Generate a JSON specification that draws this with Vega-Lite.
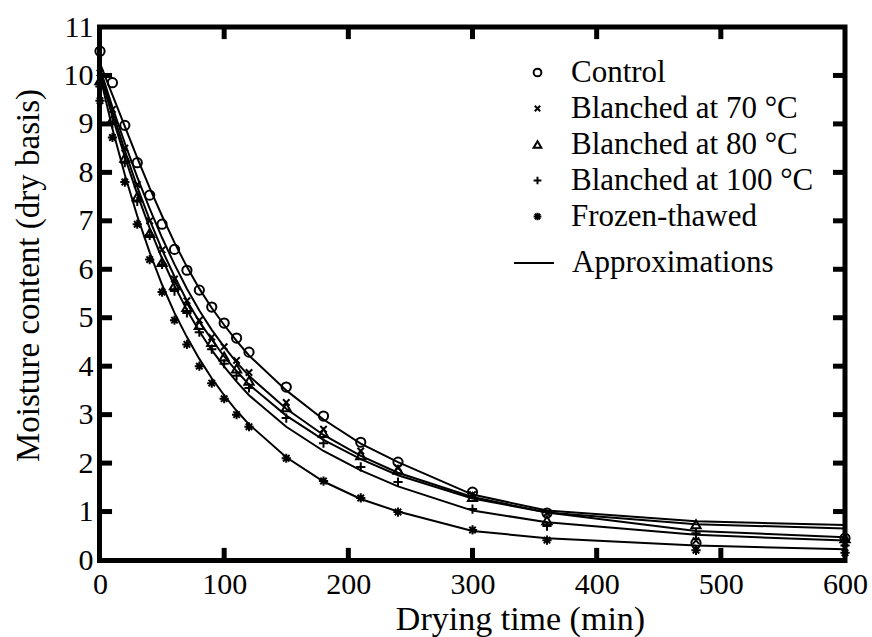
{
  "$schema": "https://vega.github.io/schema/vega-lite/v6.json",
  "width": 745,
  "height": 533,
  "autosize": "none",
  "padding": {"left": 100, "top": 27, "right": 27, "bottom": 77},
  "background": "white",
  "config": {
    "view": {"stroke": null},
    "font": "Liberation Serif"
  },
  "datasets": {
    "xt": [{"v":100},{"v":200},{"v":300},{"v":400},{"v":500}],
    "yt": [{"v":1},{"v":2},{"v":3},{"v":4},{"v":5},{"v":6},{"v":7},{"v":8},{"v":9},{"v":10}],
    "d": [
      {"s":"Control","t":0,"m":10.5,"f":10.25},{"s":"Control","t":10,"m":9.85,"f":9.6},{"s":"Control","t":20,"m":8.97,"f":8.95},{"s":"Control","t":30,"m":8.2,"f":8.3},{"s":"Control","t":40,"m":7.53,"f":7.68},{"s":"Control","t":50,"m":6.93,"f":7.1},{"s":"Control","t":60,"m":6.41,"f":6.55},{"s":"Control","t":70,"m":5.98,"f":6.05},{"s":"Control","t":80,"m":5.57,"f":5.6},{"s":"Control","t":90,"m":5.22,"f":5.2},{"s":"Control","t":100,"m":4.89,"f":4.85},{"s":"Control","t":110,"m":4.58,"f":4.52},{"s":"Control","t":120,"m":4.29,"f":4.22},{"s":"Control","t":150,"m":3.57,"f":3.5},{"s":"Control","t":180,"m":2.97,"f":2.9},{"s":"Control","t":210,"m":2.43,"f":2.4},{"s":"Control","t":240,"m":2.02,"f":2.02},{"s":"Control","t":300,"m":1.4,"f":1.35},{"s":"Control","t":360,"m":0.97,"f":1.02},{"s":"Control","t":480,"m":0.35,"f":0.8},{"s":"Control","t":600,"m":0.45,"f":0.72},
      {"s":"Blanched at 70 °C","t":0,"m":10.05,"f":10.15},{"s":"Blanched at 70 °C","t":10,"m":9.3,"f":9.35},{"s":"Blanched at 70 °C","t":20,"m":8.5,"f":8.6},{"s":"Blanched at 70 °C","t":30,"m":7.75,"f":7.9},{"s":"Blanched at 70 °C","t":40,"m":7.0,"f":7.25},{"s":"Blanched at 70 °C","t":50,"m":6.4,"f":6.65},{"s":"Blanched at 70 °C","t":60,"m":5.8,"f":6.1},{"s":"Blanched at 70 °C","t":70,"m":5.35,"f":5.6},{"s":"Blanched at 70 °C","t":80,"m":4.95,"f":5.15},{"s":"Blanched at 70 °C","t":90,"m":4.6,"f":4.75},{"s":"Blanched at 70 °C","t":100,"m":4.4,"f":4.4},{"s":"Blanched at 70 °C","t":110,"m":4.12,"f":4.08},{"s":"Blanched at 70 °C","t":120,"m":3.87,"f":3.8},{"s":"Blanched at 70 °C","t":150,"m":3.25,"f":3.12},{"s":"Blanched at 70 °C","t":180,"m":2.7,"f":2.58},{"s":"Blanched at 70 °C","t":210,"m":2.25,"f":2.15},{"s":"Blanched at 70 °C","t":240,"m":1.9,"f":1.8},{"s":"Blanched at 70 °C","t":300,"m":1.35,"f":1.3},{"s":"Blanched at 70 °C","t":360,"m":0.97,"f":0.98},{"s":"Blanched at 70 °C","t":480,"m":0.4,"f":0.6},{"s":"Blanched at 70 °C","t":600,"m":0.35,"f":0.47},
      {"s":"Blanched at 80 °C","t":0,"m":9.9,"f":10.1},{"s":"Blanched at 80 °C","t":10,"m":9.1,"f":9.25},{"s":"Blanched at 80 °C","t":20,"m":8.3,"f":8.45},{"s":"Blanched at 80 °C","t":30,"m":7.5,"f":7.7},{"s":"Blanched at 80 °C","t":40,"m":6.75,"f":7.02},{"s":"Blanched at 80 °C","t":50,"m":6.15,"f":6.4},{"s":"Blanched at 80 °C","t":60,"m":5.67,"f":5.85},{"s":"Blanched at 80 °C","t":70,"m":5.22,"f":5.35},{"s":"Blanched at 80 °C","t":80,"m":4.85,"f":4.92},{"s":"Blanched at 80 °C","t":90,"m":4.5,"f":4.55},{"s":"Blanched at 80 °C","t":100,"m":4.2,"f":4.2},{"s":"Blanched at 80 °C","t":110,"m":3.95,"f":3.9},{"s":"Blanched at 80 °C","t":120,"m":3.7,"f":3.62},{"s":"Blanched at 80 °C","t":150,"m":3.15,"f":2.98},{"s":"Blanched at 80 °C","t":180,"m":2.62,"f":2.48},{"s":"Blanched at 80 °C","t":210,"m":2.16,"f":2.08},{"s":"Blanched at 80 °C","t":240,"m":1.86,"f":1.75},{"s":"Blanched at 80 °C","t":300,"m":1.3,"f":1.27},{"s":"Blanched at 80 °C","t":360,"m":0.82,"f":0.98},{"s":"Blanched at 80 °C","t":480,"m":0.74,"f":0.74},{"s":"Blanched at 80 °C","t":600,"m":0.45,"f":0.65},
      {"s":"Blanched at 100 °C","t":0,"m":9.77,"f":10.05},{"s":"Blanched at 100 °C","t":10,"m":9.0,"f":9.15},{"s":"Blanched at 100 °C","t":20,"m":8.2,"f":8.32},{"s":"Blanched at 100 °C","t":30,"m":7.4,"f":7.55},{"s":"Blanched at 100 °C","t":40,"m":6.7,"f":6.85},{"s":"Blanched at 100 °C","t":50,"m":6.1,"f":6.22},{"s":"Blanched at 100 °C","t":60,"m":5.55,"f":5.66},{"s":"Blanched at 100 °C","t":70,"m":5.1,"f":5.16},{"s":"Blanched at 100 °C","t":80,"m":4.7,"f":4.72},{"s":"Blanched at 100 °C","t":90,"m":4.35,"f":4.33},{"s":"Blanched at 100 °C","t":100,"m":4.05,"f":3.99},{"s":"Blanched at 100 °C","t":110,"m":3.8,"f":3.68},{"s":"Blanched at 100 °C","t":120,"m":3.55,"f":3.4},{"s":"Blanched at 100 °C","t":150,"m":2.93,"f":2.75},{"s":"Blanched at 100 °C","t":180,"m":2.41,"f":2.25},{"s":"Blanched at 100 °C","t":210,"m":1.92,"f":1.85},{"s":"Blanched at 100 °C","t":240,"m":1.61,"f":1.52},{"s":"Blanched at 100 °C","t":300,"m":1.05,"f":1.02},{"s":"Blanched at 100 °C","t":360,"m":0.7,"f":0.78},{"s":"Blanched at 100 °C","t":480,"m":0.55,"f":0.52},{"s":"Blanched at 100 °C","t":600,"m":0.3,"f":0.4},
      {"s":"Frozen-thawed","t":0,"m":9.48,"f":10.0},{"s":"Frozen-thawed","t":10,"m":8.72,"f":8.9},{"s":"Frozen-thawed","t":20,"m":7.8,"f":7.95},{"s":"Frozen-thawed","t":30,"m":6.93,"f":7.1},{"s":"Frozen-thawed","t":40,"m":6.2,"f":6.35},{"s":"Frozen-thawed","t":50,"m":5.53,"f":5.68},{"s":"Frozen-thawed","t":60,"m":4.95,"f":5.1},{"s":"Frozen-thawed","t":70,"m":4.45,"f":4.6},{"s":"Frozen-thawed","t":80,"m":4.0,"f":4.15},{"s":"Frozen-thawed","t":90,"m":3.65,"f":3.75},{"s":"Frozen-thawed","t":100,"m":3.33,"f":3.4},{"s":"Frozen-thawed","t":110,"m":3.0,"f":3.08},{"s":"Frozen-thawed","t":120,"m":2.75,"f":2.8},{"s":"Frozen-thawed","t":150,"m":2.1,"f":2.12},{"s":"Frozen-thawed","t":180,"m":1.63,"f":1.62},{"s":"Frozen-thawed","t":210,"m":1.28,"f":1.26},{"s":"Frozen-thawed","t":240,"m":0.99,"f":1.0},{"s":"Frozen-thawed","t":300,"m":0.62,"f":0.6},{"s":"Frozen-thawed","t":360,"m":0.41,"f":0.45},{"s":"Frozen-thawed","t":480,"m":0.2,"f":0.3},{"s":"Frozen-thawed","t":600,"m":0.15,"f":0.22}
    ]
  },
  "layer": [
    {
      "data": {"name": "d"},
      "mark": {"type": "line", "stroke": "black", "strokeWidth": 2},
      "encoding": {
        "x": {"field": "t", "type": "quantitative", "scale": {"domain": [0, 600], "nice": false},
              "axis": {"orient": "bottom", "title": "Drying time (min)", "values": [0,100,200,300,400,500,600], "grid": false,
                       "domain": false, "ticks": false,
                       "labelFont": "Liberation Serif", "labelFontSize": 30, "labelColor": "black", "labelPadding": 9, "labelFlush": false,
                       "titleFont": "Liberation Serif", "titleFontSize": 34, "titleFontWeight": "normal", "titleColor": "black", "titlePadding": 3, "titleX": 420}},
        "y": {"field": "f", "type": "quantitative", "scale": {"domain": [0, 11], "nice": false},
              "axis": {"orient": "left", "title": "Moisture content (dry basis)", "values": [0,1,2,3,4,5,6,7,8,9,10,11], "grid": false,
                       "domain": false, "ticks": false,
                       "labelFont": "Liberation Serif", "labelFontSize": 30, "labelColor": "black", "labelPadding": 7, "labelFlush": false,
                       "titleFont": "Liberation Serif", "titleFontSize": 33, "titleFontWeight": "normal", "titleColor": "black", "titlePadding": 18, "titleY": 248}},
        "detail": {"field": "s"},
        "stroke": {"datum": "Approximations", "scale": {"range": ["black"]},
                   "legend": {"title": null, "orient": "none", "symbolType": "stroke", "symbolSize": 1600, "symbolStrokeWidth": 2, "symbolStrokeColor": "black",
                              "labelFont": "Liberation Serif", "labelFontSize": 31, "labelColor": "black", "labelLimit": 400,
                              "labelOffset": 17, "legendX": 413, "legendY": 215}}
      }
    },
    {
      "data": {"name": "d"},
      "mark": {"type": "point", "filled": false, "stroke": "black", "strokeWidth": 2, "size": 85, "opacity": 1},
      "encoding": {
        "x": {"field": "t", "type": "quantitative"},
        "y": {"field": "m", "type": "quantitative"},
        "shape": {"field": "s", "type": "nominal",
                  "scale": {"domain": ["Control", "Blanched at 70 °C", "Blanched at 80 °C", "Blanched at 100 °C", "Frozen-thawed"],
                            "range": ["circle", "M-0.7,-0.7L0.7,0.7M-0.7,0.7L0.7,-0.7", "triangle-up", "M-1,0L1,0M0,-1L0,1", "M0,-1L0,1M-1,0L1,0M-0.7,-0.7L0.7,0.7M-0.7,0.7L0.7,-0.7"]},
                  "legend": {"title": null, "orient": "none", "symbolSize": 60, "symbolStrokeColor": "black", "symbolFillColor": "transparent", "symbolStrokeWidth": 2,
                             "labelFont": "Liberation Serif", "labelFontSize": 31, "labelColor": "black", "labelLimit": 400,
                             "rowPadding": 4, "labelOffset": 18, "legendX": 422, "legendY": 30}}
      }
    },
    {
      "layer": [
        {
          "data": {"name": "xt"},
          "mark": {"type": "rule", "stroke": "black", "strokeWidth": 5},
          "encoding": {"x": {"field": "v", "type": "quantitative"}, "y": {"datum": -0.01, "type": "quantitative"}, "y2": {"datum": 0.25}}
        },
        {
          "data": {"name": "xt"},
          "mark": {"type": "rule", "stroke": "black", "strokeWidth": 5},
          "encoding": {"x": {"field": "v", "type": "quantitative"}, "y": {"datum": 11, "type": "quantitative"}, "y2": {"datum": 10.75}}
        },
        {
          "data": {"name": "yt"},
          "mark": {"type": "rule", "stroke": "black", "strokeWidth": 5},
          "encoding": {"y": {"field": "v", "type": "quantitative"}, "x": {"datum": -0.4, "type": "quantitative"}, "x2": {"datum": 9.7}}
        },
        {
          "data": {"name": "yt"},
          "mark": {"type": "tick", "color": "black", "opacity": 1, "orient": "horizontal", "thickness": 5, "size": 12, "xOffset": -6},
          "encoding": {"y": {"field": "v", "type": "quantitative"}, "x": {"datum": 600, "type": "quantitative"}}
        },
        {
          "data": {"values": [{"part": "frame"}]},
          "mark": {"type": "rect", "fill": "transparent", "stroke": "black", "strokeWidth": 5},
          "encoding": {
            "x": {"datum": -0.4, "type": "quantitative"}, "x2": {"datum": 600},
            "y": {"datum": -0.01, "type": "quantitative"}, "y2": {"datum": 11}
          }
        }
      ]
    }
  ]
}
